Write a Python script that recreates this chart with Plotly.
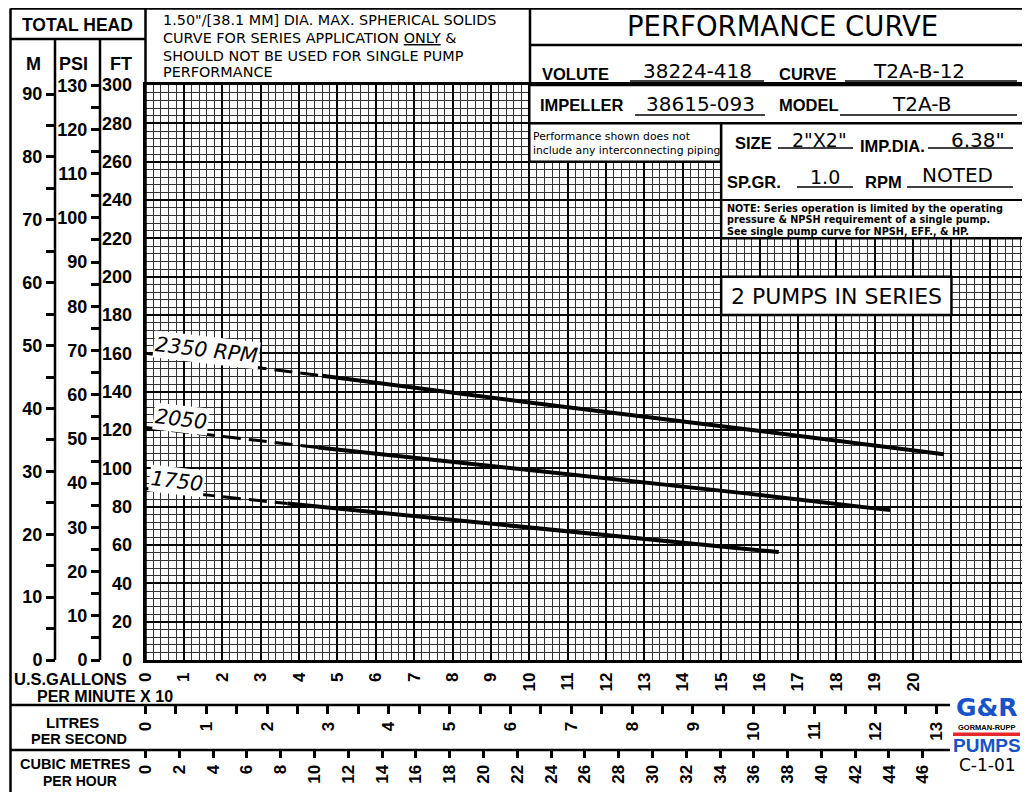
import plotly.graph_objects as go

# ---------------- data ----------------
# flow in U.S. GPM x 10, head in feet; first segment (index 0..1) is dashed
flow_2350 = [0, 4.6, 10, 15.7, 20.8]
head_2350 = [160.0, 148.3, 134.4, 120.3, 107.3]
flow_2050 = [0, 4.5, 10, 15.7, 19.4]
head_2050 = [121.3, 110.9, 99.0, 86.8, 78.2]
flow_1750 = [0, 3.7, 10, 15.7, 16.5]
head_1750 = [89.5, 81.6, 69.1, 57.8, 56.3]
curve_labels = ["2350 RPM", "2050", "1750"]
label_flow = [1.6, 0.93, 0.82]
label_head = [161.5, 125.5, 93.5]

gpm_ticks = list(range(0, 24))
gpm_text = [str(v) if v <= 20 else "" for v in gpm_ticks]
ft_ticks = list(range(0, 301, 20))
psi_ticks = list(range(0, 131, 5))
psi_text = [str(v) if v % 10 == 0 else "" for v in psi_ticks]
m_ticks = list(range(0, 91, 5))
m_text = [str(v) if v % 10 == 0 else "" for v in m_ticks]
lps_ticks = [v / 2 for v in range(0, 27)]
lps_text = [str(int(v)) if v == int(v) else "" for v in lps_ticks]
m3h_ticks = list(range(0, 47, 2))
m3h_text = [str(v) for v in m3h_ticks]

FT_PER_PSI = 2.3067
FT_PER_M = 3.28084
GPM10_PER_LPS = 1.58503
GPM10_PER_M3H = 0.440287

# ---------------- geometry ----------------
W, H = 1030, 792
OFF = 8  # page body margin
def PX(x): return (x - OFF) / W
def PY(y): return 1 - (y - OFF) / H

XL, XR = 145.5, 1028.2
YB, YT = 660.0, 85.0
XMAX, FTMAX = 23, 300

BOLD = dict(family="Liberation Sans", weight="bold", color="black")
TICKF = dict(BOLD, size=18)
XTICKF = dict(BOLD, size=17)

fig = go.Figure()

curves = [(flow_2350, head_2350), (flow_2050, head_2050), (flow_1750, head_1750)]
for fl, hd in curves:
    fig.add_trace(go.Scatter(x=fl[:2], y=hd[:2], mode="lines", hoverinfo="skip",
                             line=dict(color="black", width=3, dash="18px,8px")))
    fig.add_trace(go.Scatter(x=fl[1:], y=hd[1:], mode="lines", hoverinfo="skip",
                             line=dict(color="black", width=4)))

# empty traces to bind secondary axes
fig.add_trace(go.Scatter(x=[None], y=[None], xaxis="x", yaxis="y2", hoverinfo="skip"))
fig.add_trace(go.Scatter(x=[None], y=[None], xaxis="x", yaxis="y3", hoverinfo="skip"))
fig.add_trace(go.Scatter(x=[None], y=[None], xaxis="x2", yaxis="y", hoverinfo="skip"))
fig.add_trace(go.Scatter(x=[None], y=[None], xaxis="x3", yaxis="y", hoverinfo="skip"))

shapes = []
def hline(y, x0, x1, w=2.5):
    shapes.append(dict(type="line", xref="paper", yref="paper", x0=PX(x0), x1=PX(x1),
                       y0=PY(y), y1=PY(y), line=dict(color="black", width=w), layer="above"))
def vline(x, y0, y1, w=2.5):
    shapes.append(dict(type="line", xref="paper", yref="paper", x0=PX(x), x1=PX(x),
                       y0=PY(y0), y1=PY(y1), line=dict(color="black", width=w), layer="above"))
def drect(x0, y0, x1, y1):
    shapes.append(dict(type="rect", xref="x", yref="y", x0=x0, x1=x1, y0=y0, y1=y1,
                       fillcolor="white", line=dict(color="black", width=2.5), layer="above"))

# frame
hline(8.5, 10.5, XR)
vline(10.5, 8.5, 800)
hline(39, 10.5, XL)
vline(55, 39, YB)
vline(100, 39, YB)
vline(XL, 8.5, YB)
vline(XR, 8.5, YB)
vline(530, 8.5, YT)
hline(45, 530, XR)
hline(705, 10.5, 950)
hline(750, 10.5, 950)

# white panels over the grid (aligned with grid lines)
drect(10, 280, 23, 300)
drect(10, 260, 15, 280)
drect(15, 220, 23, 280)
drect(15, 180, 21, 200)
shapes.append(dict(type="line", xref="x", yref="y", x0=15, x1=23, y0=240, y1=240,
                   line=dict(color="black", width=2), layer="above"))

# underlines in the info panel
for (x0, x1, y) in [(630, 764, 81), (845, 1017, 81), (635, 765, 115), (840, 1017, 115),
                    (778, 853, 148), (928, 1013, 148), (797, 853, 187), (907, 1013, 187)]:
    hline(y, x0, x1, w=1.5)

# red bar of the logo
shapes.append(dict(type="rect", xref="paper", yref="paper", x0=PX(953), x1=PX(1020),
                   y0=PY(736), y1=PY(732.5), fillcolor="#e8262b", line=dict(width=0), layer="above"))

ann = []
def txt(x, y, s, size, family="DejaVu Sans", weight="normal", xanchor="center",
        color="black", style="normal"):
    ann.append(dict(x=PX(x), y=PY(y), xref="paper", yref="paper", text=s, showarrow=False,
                    xanchor=xanchor, yanchor="middle",
                    font=dict(family=family, size=size, weight=weight, color=color, style=style)))

LS = "Liberation Sans"
txt(77, 24.5, "TOTAL HEAD", 17.5, LS, "bold")
txt(33, 64, "M", 18, LS, "bold")
txt(73, 64, "PSI", 18, LS, "bold")
txt(121, 64, "FT", 18, LS, "bold")

txt(161, 20, '1.50"/[38.1 MM] DIA. MAX. SPHERICAL SOLIDS', 14.4, xanchor="left")
txt(161, 38.5, 'CURVE FOR SERIES APPLICATION <u>ONLY</u> &', 14.4, xanchor="left")
txt(161, 55.5, 'SHOULD NOT BE USED FOR SINGLE PUMP', 14.4, xanchor="left")
txt(161, 72.5, 'PERFORMANCE', 14.4, xanchor="left")

txt(782, 26, "PERFORMANCE CURVE", 27.5)
txt(540, 74.5, "VOLUTE", 16.5, LS, "bold", xanchor="left")
txt(697, 71, "38224-418", 20)
txt(777, 74.5, "CURVE", 16.5, LS, "bold", xanchor="left")
txt(919, 71, "T2A-B-12", 20)
txt(538, 105.5, "IMPELLER", 16.5, LS, "bold", xanchor="left")
txt(700, 104, "38615-093", 20)
txt(777, 105.5, "MODEL", 16.5, LS, "bold", xanchor="left")
txt(921, 104, "T2A-B", 20)

txt(531, 137, "Performance shown does not", 10.8, xanchor="left")
txt(531, 150, "include any interconnecting piping", 10.8, xanchor="left")

txt(733, 143, "SIZE", 16.5, LS, "bold", xanchor="left")
txt(819, 140, '2"X2"', 19)
txt(858, 145.5, "IMP.DIA.", 16.5, LS, "bold", xanchor="left")
txt(978, 140, '6.38"', 20)
txt(725, 181.5, "SP.GR.", 16.5, LS, "bold", xanchor="left")
txt(825, 176.5, "1.0", 19)
txt(863, 181.5, "RPM", 16.5, LS, "bold", xanchor="left")
txt(957, 175, "NOTED", 20)

txt(725, 208, "NOTE: Series operation is limited by the operating", 9.7, weight="bold", xanchor="left")
txt(725, 219.5, "pressure & NPSH requirement of a single pump.", 9.7, weight="bold", xanchor="left")
txt(725, 231, "See single pump curve for NPSH, EFF., & HP.", 9.7, weight="bold", xanchor="left")

txt(836, 296, "2 PUMPS IN SERIES", 22)

txt(70, 679, "U.S.GALLONS", 16.5, LS, "bold")
txt(35, 696, "PER MINUTE X 10", 16, LS, "bold", xanchor="left")
txt(72, 722.5, "LITRES", 15, LS, "bold")
txt(79, 739, "PER SECOND", 14.5, LS, "bold")
txt(75, 764, "CUBIC METRES", 14.5, LS, "bold")
txt(80, 781, "PER HOUR", 14, LS, "bold")

# logo
txt(987, 707, "G&R", 25, "DejaVu Sans", "bold", color="#1652c8")
txt(986.5, 727, "GORMAN-RUPP", 7.5, LS, "bold")
txt(986.5, 745, "PUMPS", 19, LS, "bold", color="#1652c8")
txt(987, 765, "C-1-01", 17, "DejaVu Sans")

# curve labels
for lab, fx, hy in zip(curve_labels, label_flow, label_head):
    ann.append(dict(x=fx, y=hy, xref="x", yref="y", text=lab, showarrow=False,
                    textangle=6.5, bgcolor="white", borderpad=1,
                    font=dict(family="DejaVu Sans", size=20.5, style="italic", color="black")))

common_ax = dict(zeroline=False, fixedrange=True, automargin=False)

fig.update_layout(
    template="none",
    width=W, height=H, margin=dict(l=0, r=0, t=0, b=0, pad=0, autoexpand=False),
    paper_bgcolor="white", plot_bgcolor="white", showlegend=False,
    shapes=shapes, annotations=ann,
    xaxis=dict(domain=[PX(XL), PX(XR)], range=[0, XMAX], tickmode="array",
               tickvals=gpm_ticks, ticktext=gpm_text, ticks="", tickangle=-90,
               tickfont=XTICKF, ticklabelstandoff=3,
               showgrid=True, gridcolor="black", gridwidth=2.2,
               minor=dict(dtick=0.2, tick0=0, showgrid=True, gridcolor="#333333", gridwidth=1.3),
               showline=True, mirror=True, linecolor="black", linewidth=2.5,
               anchor="y", **common_ax),
    yaxis=dict(domain=[PY(YB), PY(YT)], range=[0, FTMAX], tickmode="array",
               tickvals=ft_ticks, ticktext=[str(v) for v in ft_ticks], ticks="",
               tickfont=TICKF, ticklabelstandoff=7,
               showgrid=True, gridcolor="black", gridwidth=2.2,
               minor=dict(dtick=4, tick0=0, showgrid=True, gridcolor="#333333", gridwidth=1.3),
               showline=True, mirror=True, linecolor="black", linewidth=2.5,
               anchor="x", **common_ax),
    yaxis2=dict(overlaying="y", anchor="free", position=PX(100), side="left",
                range=[0, FTMAX / FT_PER_PSI], tickmode="array", tickvals=psi_ticks,
                ticktext=psi_text, ticks="outside", ticklen=9, tickwidth=2.5,
                tickcolor="black", tickfont=TICKF, showgrid=False, showline=False,
                **common_ax),
    yaxis3=dict(overlaying="y", anchor="free", position=PX(55), side="left",
                range=[0, FTMAX / FT_PER_M], tickmode="array", tickvals=m_ticks,
                ticktext=m_text, ticks="outside", ticklen=9, tickwidth=2.5,
                tickcolor="black", tickfont=TICKF, showgrid=False, showline=False,
                **common_ax),
    xaxis2=dict(overlaying="x", anchor="free", position=PY(705), side="bottom",
                range=[0, XMAX / GPM10_PER_LPS], tickmode="array", tickvals=lps_ticks,
                ticktext=lps_text, ticks="outside", ticklen=8, tickwidth=2.5,
                tickcolor="black", tickangle=-90, tickfont=XTICKF, ticklabelstandoff=1,
                showgrid=False, showline=False, **common_ax),
    xaxis3=dict(overlaying="x", anchor="free", position=PY(750), side="bottom",
                range=[0, XMAX / GPM10_PER_M3H], tickmode="array", tickvals=m3h_ticks,
                ticktext=m3h_text, ticks="outside", ticklen=7, tickwidth=2.5,
                tickcolor="black", tickangle=-90, tickfont=XTICKF, ticklabelstandoff=0,
                showgrid=False, showline=False, **common_ax),
)

fig.write_html("out.html")
